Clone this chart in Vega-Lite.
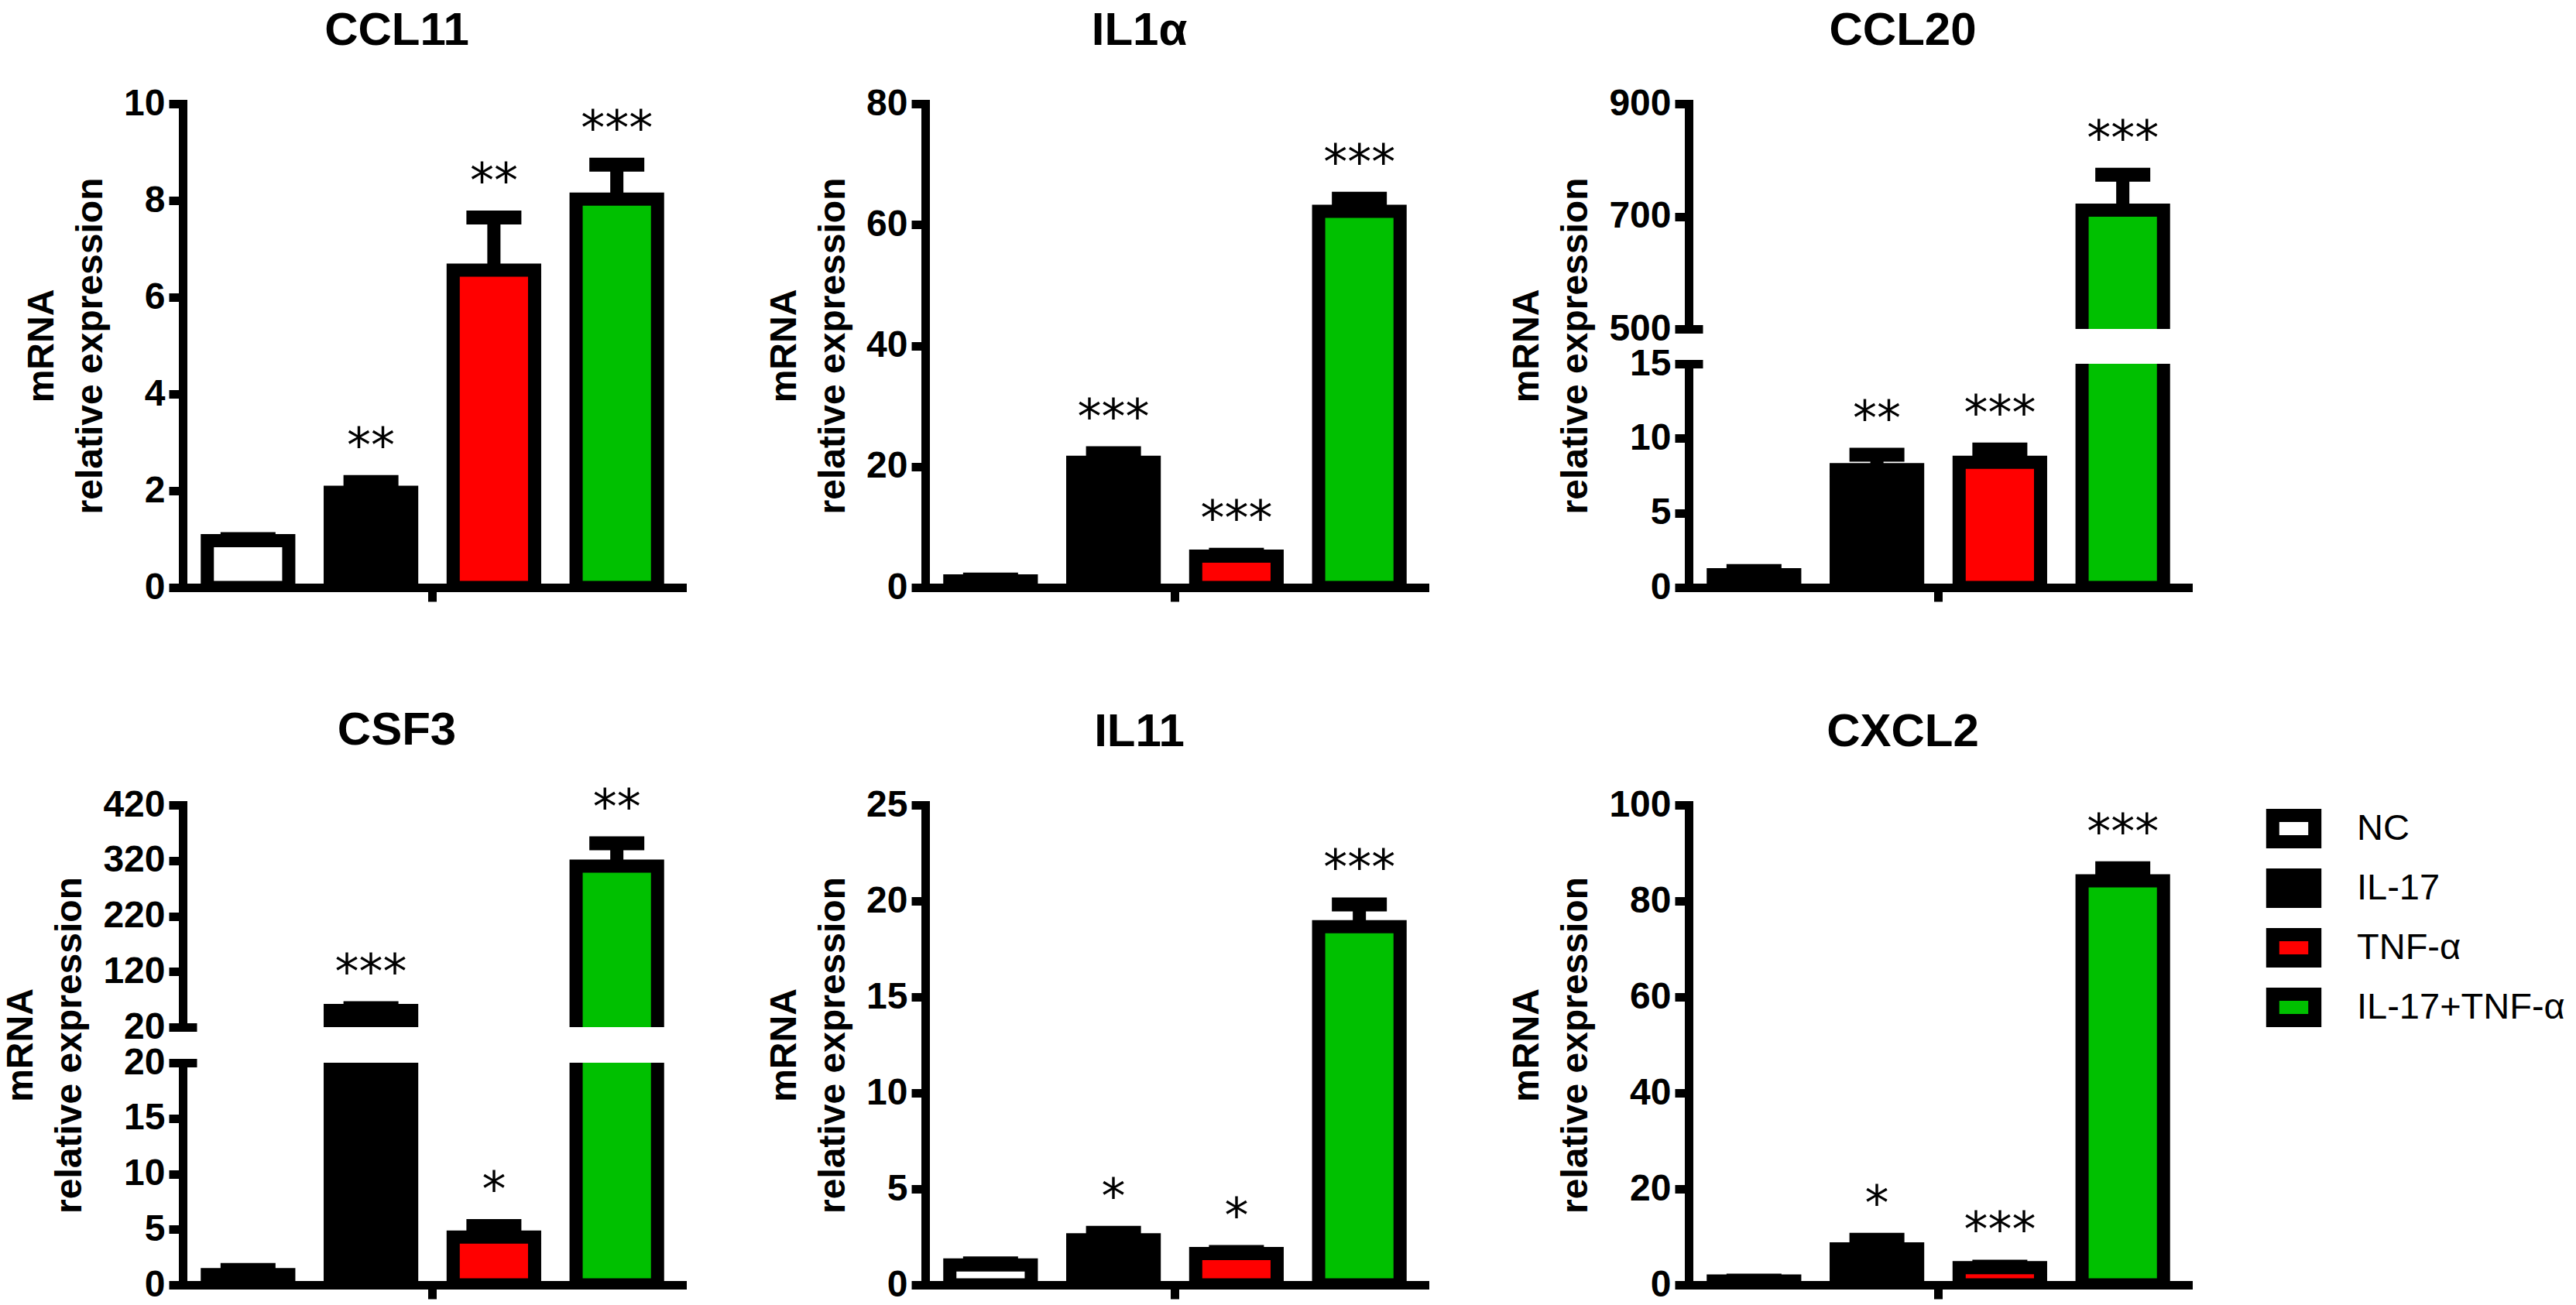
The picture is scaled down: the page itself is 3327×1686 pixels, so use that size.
{
  "$schema": "https://vega.github.io/schema/vega-lite/v6.json",
  "padding": {"left": 3, "top": 10, "right": 0, "bottom": 5},
  "background": "white",
  "datasets": {
    "d": [
      {"gene": "CCL11", "group": "NC", "value": 0.97, "upper": 1.0, "sig": ""},
      {"gene": "CCL11", "group": "IL-17", "value": 1.97, "upper": 2.18, "sig": "**"},
      {"gene": "CCL11", "group": "TNF-α", "value": 6.56, "upper": 7.65, "sig": "**"},
      {"gene": "CCL11", "group": "IL-17+TNF-α", "value": 8.03, "upper": 8.74, "sig": "***"},
      {"gene": "IL1α", "group": "NC", "value": 1.1, "upper": 1.3, "sig": ""},
      {"gene": "IL1α", "group": "IL-17", "value": 20.7, "upper": 22.2, "sig": "***"},
      {"gene": "IL1α", "group": "TNF-α", "value": 5.2, "upper": 5.4, "sig": "***"},
      {"gene": "IL1α", "group": "IL-17+TNF-α", "value": 62.2, "upper": 64.3, "sig": "***"},
      {"gene": "CCL20", "group": "NC", "value": 0.85, "upper": 1.1, "sig": ""},
      {"gene": "CCL20", "group": "IL-17", "value": 7.9, "upper": 8.9, "sig": "**"},
      {"gene": "CCL20", "group": "TNF-α", "value": 8.4, "upper": 9.25, "sig": "***"},
      {"gene": "CCL20", "group": "IL-17+TNF-α", "value": 711, "upper": 774, "sig": "***"},
      {"gene": "CSF3", "group": "NC", "value": 0.92, "upper": 1.35, "sig": ""},
      {"gene": "CSF3", "group": "IL-17", "value": 50, "upper": 54, "sig": "***"},
      {"gene": "CSF3", "group": "TNF-α", "value": 4.3, "upper": 5.3, "sig": "*"},
      {"gene": "CSF3", "group": "IL-17+TNF-α", "value": 310, "upper": 351, "sig": "**"},
      {"gene": "IL11", "group": "NC", "value": 1.04, "upper": 1.12, "sig": ""},
      {"gene": "IL11", "group": "IL-17", "value": 2.35, "upper": 2.71, "sig": "*"},
      {"gene": "IL11", "group": "TNF-α", "value": 1.63, "upper": 1.71, "sig": "*"},
      {"gene": "IL11", "group": "IL-17+TNF-α", "value": 18.66, "upper": 19.82, "sig": "***"},
      {"gene": "CXCL2", "group": "NC", "value": 0.8, "upper": 0.9, "sig": ""},
      {"gene": "CXCL2", "group": "IL-17", "value": 7.5, "upper": 9.4, "sig": "*"},
      {"gene": "CXCL2", "group": "TNF-α", "value": 3.6, "upper": 3.8, "sig": "***"},
      {"gene": "CXCL2", "group": "IL-17+TNF-α", "value": 84.2, "upper": 86.8, "sig": "***"}
    ]
  },
  "data": {"name": "d"},
  "columns": 3,
  "spacing": {"row": 130, "column": 108},
  "resolve": {"scale": {"x": "independent", "y": "independent", "fill": "independent"}, "legend": {"fill": "independent"}},
  "concat": [
    {
      "title": {"text": "CCL11", "anchor": "middle"},
      "width": 645, "height": 625,
      "transform": [{"filter": "datum.gene === 'CCL11'"}],
      "encoding": {
        "x": {"field": "group", "type": "nominal", "sort": ["NC", "IL-17", "TNF-α", "IL-17+TNF-α"], "scale": {"paddingInner": 0.3375, "paddingOuter": 0.2, "align": 0.5}, "axis": {"values": ["TNF-α"], "labels": false, "title": null, "bandPosition": -0.256}}
      },
      "layer": [
        {"mark": {"type": "bar", "stroke": "black", "strokeWidth": 17, "clip": true},
         "encoding": {"y": {"field": "value", "type": "quantitative", "scale": {"domain": [0, 10]}, "axis": {"values": [0, 2, 4, 6, 8, 10], "format": "d", "title": ["mRNA", "relative expression"]}},
                      "fill": {"field": "group", "type": "nominal", "scale": {"domain": ["NC", "IL-17", "TNF-α", "IL-17+TNF-α"], "range": ["#ffffff", "#000000", "#ff0000", "#00c000"]}, "legend": null}}},
        {"mark": {"type": "rule", "strokeWidth": 17, "color": "black"},
         "encoding": {"y": {"field": "value", "type": "quantitative", "scale": {"domain": [0, 10]}}, "y2": {"field": "upper"}}},
        {"mark": {"type": "tick", "orient": "horizontal", "size": 71, "thickness": 18, "color": "black", "opacity": 1},
         "encoding": {"y": {"field": "upper", "type": "quantitative", "scale": {"domain": [0, 10]}}}},
        {"mark": {"type": "text", "font": "DejaVu Sans", "fontSize": 62, "baseline": "alphabetic", "dy": -26, "color": "black"},
         "encoding": {"y": {"field": "upper", "type": "quantitative", "scale": {"domain": [0, 10]}}, "text": {"field": "sig"}}}
      ]
    },
    {
      "title": {"text": "IL1α", "anchor": "middle"},
      "width": 645, "height": 625,
      "transform": [{"filter": "datum.gene === 'IL1α'"}],
      "encoding": {
        "x": {"field": "group", "type": "nominal", "sort": ["NC", "IL-17", "TNF-α", "IL-17+TNF-α"], "scale": {"paddingInner": 0.3375, "paddingOuter": 0.2, "align": 0.5}, "axis": {"values": ["TNF-α"], "labels": false, "title": null, "bandPosition": -0.256}}
      },
      "layer": [
        {"mark": {"type": "bar", "stroke": "black", "strokeWidth": 17, "clip": true},
         "encoding": {"y": {"field": "value", "type": "quantitative", "scale": {"domain": [0, 80]}, "axis": {"values": [0, 20, 40, 60, 80], "format": "d", "title": ["mRNA", "relative expression"]}},
                      "fill": {"field": "group", "type": "nominal", "scale": {"domain": ["NC", "IL-17", "TNF-α", "IL-17+TNF-α"], "range": ["#ffffff", "#000000", "#ff0000", "#00c000"]}, "legend": null}}},
        {"mark": {"type": "rule", "strokeWidth": 17, "color": "black"},
         "encoding": {"y": {"field": "value", "type": "quantitative", "scale": {"domain": [0, 80]}}, "y2": {"field": "upper"}}},
        {"mark": {"type": "tick", "orient": "horizontal", "size": 71, "thickness": 18, "color": "black", "opacity": 1},
         "encoding": {"y": {"field": "upper", "type": "quantitative", "scale": {"domain": [0, 80]}}}},
        {"mark": {"type": "text", "font": "DejaVu Sans", "fontSize": 62, "baseline": "alphabetic", "dy": -26, "color": "black"},
         "encoding": {"y": {"field": "upper", "type": "quantitative", "scale": {"domain": [0, 80]}}, "text": {"field": "sig"}}}
      ]
    },
    {
      "bounds": "flush",
      "spacing": 45,
      "resolve": {"scale": {"x": "independent", "y": "independent", "fill": "independent"}, "legend": {"fill": "independent"}},
      "vconcat": [
        {
          "title": {"text": "CCL20", "anchor": "middle"},
          "width": 645, "height": 291,
          "transform": [{"filter": "datum.gene === 'CCL20'"}],
          "encoding": {
            "x": {"field": "group", "type": "nominal", "sort": ["NC", "IL-17", "TNF-α", "IL-17+TNF-α"], "scale": {"paddingInner": 0.3375, "paddingOuter": 0.2, "align": 0.5}, "axis": null}
          },
          "layer": [
            {"mark": {"type": "bar", "stroke": "black", "strokeWidth": 17, "clip": true},
             "encoding": {"y": {"field": "value", "type": "quantitative", "scale": {"domain": [500, 900]}, "axis": {"values": [500, 700, 900], "format": "d", "title": ["mRNA", "relative expression"], "titleY": 312.5, "grid": true, "gridColor": "black", "gridWidth": 11, "gridDash": [18, 5000], "gridOpacity": {"condition": {"test": "datum.value === 500", "value": 1}, "value": 0}}},
                          "fill": {"field": "group", "type": "nominal", "scale": {"domain": ["NC", "IL-17", "TNF-α", "IL-17+TNF-α"], "range": ["#ffffff", "#000000", "#ff0000", "#00c000"]}, "legend": null}}},
            {"mark": {"type": "rule", "strokeWidth": 17, "color": "black", "clip": true},
             "encoding": {"y": {"field": "value", "type": "quantitative", "scale": {"domain": [500, 900]}}, "y2": {"field": "upper"}}},
            {"mark": {"type": "tick", "orient": "horizontal", "size": 71, "thickness": 18, "color": "black", "opacity": 1, "clip": true},
             "encoding": {"y": {"field": "upper", "type": "quantitative", "scale": {"domain": [500, 900]}}}},
            {"transform": [{"filter": "datum.upper > 500"}],
             "mark": {"type": "text", "font": "DejaVu Sans", "fontSize": 62, "baseline": "alphabetic", "dy": -26, "color": "black"},
             "encoding": {"y": {"field": "upper", "type": "quantitative", "scale": {"domain": [500, 900]}}, "text": {"field": "sig"}}}
          ]
        },
        {
          "width": 645, "height": 289,
          "transform": [{"filter": "datum.gene === 'CCL20'"}],
          "encoding": {
            "x": {"field": "group", "type": "nominal", "sort": ["NC", "IL-17", "TNF-α", "IL-17+TNF-α"], "scale": {"paddingInner": 0.3375, "paddingOuter": 0.2, "align": 0.5}, "axis": {"values": ["TNF-α"], "labels": false, "title": null, "bandPosition": -0.256}}
          },
          "layer": [
            {"mark": {"type": "bar", "stroke": "black", "strokeWidth": 17, "clip": true},
             "encoding": {"y": {"field": "value", "type": "quantitative", "scale": {"domain": [0, 15]}, "axis": {"values": [0, 5, 10, 15], "format": "d", "title": null, "grid": true, "gridColor": "black", "gridWidth": 11, "gridDash": [18, 5000], "gridOpacity": {"condition": {"test": "datum.value === 15", "value": 1}, "value": 0}}},
                          "fill": {"field": "group", "type": "nominal", "scale": {"domain": ["NC", "IL-17", "TNF-α", "IL-17+TNF-α"], "range": ["#ffffff", "#000000", "#ff0000", "#00c000"]}, "legend": null}}},
            {"mark": {"type": "rule", "strokeWidth": 17, "color": "black", "clip": true},
             "encoding": {"y": {"field": "value", "type": "quantitative", "scale": {"domain": [0, 15]}}, "y2": {"field": "upper"}}},
            {"mark": {"type": "tick", "orient": "horizontal", "size": 71, "thickness": 18, "color": "black", "opacity": 1, "clip": true},
             "encoding": {"y": {"field": "upper", "type": "quantitative", "scale": {"domain": [0, 15]}}}},
            {"transform": [{"filter": "datum.upper < 15"}],
             "mark": {"type": "text", "font": "DejaVu Sans", "fontSize": 62, "baseline": "alphabetic", "dy": -26, "color": "black"},
             "encoding": {"y": {"field": "upper", "type": "quantitative", "scale": {"domain": [0, 15]}}, "text": {"field": "sig"}}}
          ]
        }
      ]
    },
    {
      "bounds": "flush",
      "spacing": 46,
      "resolve": {"scale": {"x": "independent", "y": "independent", "fill": "independent"}, "legend": {"fill": "independent"}},
      "vconcat": [
        {
          "title": {"text": "CSF3", "anchor": "middle"},
          "width": 645, "height": 287,
          "transform": [{"filter": "datum.gene === 'CSF3'"}],
          "encoding": {
            "x": {"field": "group", "type": "nominal", "sort": ["NC", "IL-17", "TNF-α", "IL-17+TNF-α"], "scale": {"paddingInner": 0.3375, "paddingOuter": 0.2, "align": 0.5}, "axis": null}
          },
          "layer": [
            {"mark": {"type": "bar", "stroke": "black", "strokeWidth": 17, "clip": true},
             "encoding": {"y": {"field": "value", "type": "quantitative", "scale": {"domain": [20, 420]}, "axis": {"values": [20, 120, 220, 320, 420], "format": "d", "title": ["mRNA", "relative expression"], "titleY": 310, "grid": true, "gridColor": "black", "gridWidth": 11, "gridDash": [18, 5000], "gridOpacity": {"condition": {"test": "datum.value === 20", "value": 1}, "value": 0}}},
                          "fill": {"field": "group", "type": "nominal", "scale": {"domain": ["NC", "IL-17", "TNF-α", "IL-17+TNF-α"], "range": ["#ffffff", "#000000", "#ff0000", "#00c000"]}, "legend": null}}},
            {"mark": {"type": "rule", "strokeWidth": 17, "color": "black", "clip": true},
             "encoding": {"y": {"field": "value", "type": "quantitative", "scale": {"domain": [20, 420]}}, "y2": {"field": "upper"}}},
            {"mark": {"type": "tick", "orient": "horizontal", "size": 71, "thickness": 18, "color": "black", "opacity": 1, "clip": true},
             "encoding": {"y": {"field": "upper", "type": "quantitative", "scale": {"domain": [20, 420]}}}},
            {"transform": [{"filter": "datum.upper > 20"}],
             "mark": {"type": "text", "font": "DejaVu Sans", "fontSize": 62, "baseline": "alphabetic", "dy": -26, "color": "black"},
             "encoding": {"y": {"field": "upper", "type": "quantitative", "scale": {"domain": [20, 420]}}, "text": {"field": "sig"}}}
          ]
        },
        {
          "width": 645, "height": 287,
          "transform": [{"filter": "datum.gene === 'CSF3'"}],
          "encoding": {
            "x": {"field": "group", "type": "nominal", "sort": ["NC", "IL-17", "TNF-α", "IL-17+TNF-α"], "scale": {"paddingInner": 0.3375, "paddingOuter": 0.2, "align": 0.5}, "axis": {"values": ["TNF-α"], "labels": false, "title": null, "bandPosition": -0.256}}
          },
          "layer": [
            {"mark": {"type": "bar", "stroke": "black", "strokeWidth": 17, "clip": true},
             "encoding": {"y": {"field": "value", "type": "quantitative", "scale": {"domain": [0, 20]}, "axis": {"values": [0, 5, 10, 15, 20], "format": "d", "title": null, "grid": true, "gridColor": "black", "gridWidth": 11, "gridDash": [18, 5000], "gridOpacity": {"condition": {"test": "datum.value === 20", "value": 1}, "value": 0}}},
                          "fill": {"field": "group", "type": "nominal", "scale": {"domain": ["NC", "IL-17", "TNF-α", "IL-17+TNF-α"], "range": ["#ffffff", "#000000", "#ff0000", "#00c000"]}, "legend": null}}},
            {"mark": {"type": "rule", "strokeWidth": 17, "color": "black", "clip": true},
             "encoding": {"y": {"field": "value", "type": "quantitative", "scale": {"domain": [0, 20]}}, "y2": {"field": "upper"}}},
            {"mark": {"type": "tick", "orient": "horizontal", "size": 71, "thickness": 18, "color": "black", "opacity": 1, "clip": true},
             "encoding": {"y": {"field": "upper", "type": "quantitative", "scale": {"domain": [0, 20]}}}},
            {"transform": [{"filter": "datum.upper < 20"}],
             "mark": {"type": "text", "font": "DejaVu Sans", "fontSize": 62, "baseline": "alphabetic", "dy": -26, "color": "black"},
             "encoding": {"y": {"field": "upper", "type": "quantitative", "scale": {"domain": [0, 20]}}, "text": {"field": "sig"}}}
          ]
        }
      ]
    },
    {
      "title": {"text": "IL11", "anchor": "middle"},
      "width": 645, "height": 620,
      "transform": [{"filter": "datum.gene === 'IL11'"}],
      "encoding": {
        "x": {"field": "group", "type": "nominal", "sort": ["NC", "IL-17", "TNF-α", "IL-17+TNF-α"], "scale": {"paddingInner": 0.3375, "paddingOuter": 0.2, "align": 0.5}, "axis": {"values": ["TNF-α"], "labels": false, "title": null, "bandPosition": -0.256}}
      },
      "layer": [
        {"mark": {"type": "bar", "stroke": "black", "strokeWidth": 17, "clip": true},
         "encoding": {"y": {"field": "value", "type": "quantitative", "scale": {"domain": [0, 25]}, "axis": {"values": [0, 5, 10, 15, 20, 25], "format": "d", "title": ["mRNA", "relative expression"]}},
                      "fill": {"field": "group", "type": "nominal", "scale": {"domain": ["NC", "IL-17", "TNF-α", "IL-17+TNF-α"], "range": ["#ffffff", "#000000", "#ff0000", "#00c000"]}, "legend": null}}},
        {"mark": {"type": "rule", "strokeWidth": 17, "color": "black"},
         "encoding": {"y": {"field": "value", "type": "quantitative", "scale": {"domain": [0, 25]}}, "y2": {"field": "upper"}}},
        {"mark": {"type": "tick", "orient": "horizontal", "size": 71, "thickness": 18, "color": "black", "opacity": 1},
         "encoding": {"y": {"field": "upper", "type": "quantitative", "scale": {"domain": [0, 25]}}}},
        {"mark": {"type": "text", "font": "DejaVu Sans", "fontSize": 62, "baseline": "alphabetic", "dy": -26, "color": "black"},
         "encoding": {"y": {"field": "upper", "type": "quantitative", "scale": {"domain": [0, 25]}}, "text": {"field": "sig"}}}
      ]
    },
    {
      "title": {"text": "CXCL2", "anchor": "middle"},
      "width": 645, "height": 620,
      "transform": [{"filter": "datum.gene === 'CXCL2'"}],
      "encoding": {
        "x": {"field": "group", "type": "nominal", "sort": ["NC", "IL-17", "TNF-α", "IL-17+TNF-α"], "scale": {"paddingInner": 0.3375, "paddingOuter": 0.2, "align": 0.5}, "axis": {"values": ["TNF-α"], "labels": false, "title": null, "bandPosition": -0.256}}
      },
      "layer": [
        {"mark": {"type": "bar", "stroke": "black", "strokeWidth": 17, "clip": true},
         "encoding": {"y": {"field": "value", "type": "quantitative", "scale": {"domain": [0, 100]}, "axis": {"values": [0, 20, 40, 60, 80, 100], "format": "d", "title": ["mRNA", "relative expression"]}},
                      "fill": {"field": "group", "type": "nominal", "scale": {"domain": ["NC", "IL-17", "TNF-α", "IL-17+TNF-α"], "range": ["#ffffff", "#000000", "#ff0000", "#00c000"]},
                               "legend": {"title": null, "orient": "right", "offset": 106, "padding": 5, "symbolType": "M-1.6,-1H1.6V1H-1.6Z", "symbolSize": 1156, "symbolStrokeColor": "black", "symbolStrokeWidth": 17, "labelFont": "Liberation Sans", "labelFontSize": 47, "labelFontWeight": "normal", "labelColor": "black", "labelOffset": 56, "labelLimit": 0, "rowPadding": -30}}}},
        {"mark": {"type": "rule", "strokeWidth": 17, "color": "black"},
         "encoding": {"y": {"field": "value", "type": "quantitative", "scale": {"domain": [0, 100]}}, "y2": {"field": "upper"}}},
        {"mark": {"type": "tick", "orient": "horizontal", "size": 71, "thickness": 18, "color": "black", "opacity": 1},
         "encoding": {"y": {"field": "upper", "type": "quantitative", "scale": {"domain": [0, 100]}}}},
        {"mark": {"type": "text", "font": "DejaVu Sans", "fontSize": 62, "baseline": "alphabetic", "dy": -26, "color": "black"},
         "encoding": {"y": {"field": "upper", "type": "quantitative", "scale": {"domain": [0, 100]}}, "text": {"field": "sig"}}}
      ]
    }
  ],
  "config": {
    "view": {"stroke": null},
    "font": "Liberation Sans",
    "axis": {"domainColor": "black", "domainWidth": 11, "domainCap": "square", "tickColor": "black", "tickWidth": 11, "tickSize": 18, "labelFont": "Liberation Sans", "labelFontWeight": "bold", "labelFontSize": 48, "labelColor": "black", "labelPadding": 5, "grid": false, "titleFont": "Liberation Sans", "titleFontWeight": "bold", "titleFontSize": 48, "titleColor": "black", "titlePadding": 18, "titleLineHeight": 63},
    "title": {"font": "Liberation Sans", "fontSize": 60, "fontWeight": "bold", "color": "black", "offset": 39, "anchor": "middle", "frame": "group", "dx": -46}
  }
}
